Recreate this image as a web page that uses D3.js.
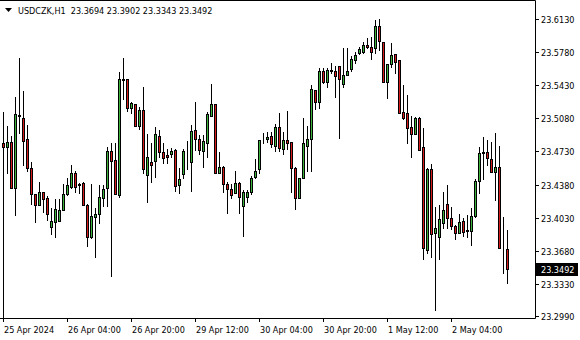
<!DOCTYPE html>
<html>
<head>
<meta charset="utf-8">
<script src="https://cdn.jsdelivr.net/npm/d3@7"></script>
<style>
  body { margin: 0; background: #fff; }
  svg { display: block; }
  text { font-family: "DejaVu Sans Condensed", "DejaVu Sans", sans-serif; font-stretch: condensed; font-size: 9px; fill: #000; white-space: pre; }
</style>
</head>
<body>
<svg id="canvas"></svg>
<script>
const title = "USDCZK,H1"

// hourly OHLC, one entry per bar
const opens = [23.4819,23.4777,23.4830,23.4344,23.5115,23.5084,23.4861,23.4555,23.4280,23.4164,
  23.4301,23.4238,23.3931,23.3984,23.3995,23.4111,23.4280,23.4354,23.4502,23.4386,
  23.4396,23.4164,23.3826,23.4037,23.4069,23.4238,23.4344,23.4735,23.4640,23.4270,
  23.5496,23.5496,23.5190,23.5232,23.4999,23.5168,23.4481,23.4618,23.4629,23.4893,
  23.4724,23.4692,23.4703,23.4745,23.4375,23.4492,23.4629,23.4618,23.4957,23.4861,
  23.4735,23.4819,23.5105,23.5232,23.4502,23.4566,23.4386,23.4333,23.4291,23.4396,
  23.4153,23.4248,23.4301,23.4460,23.4544,23.4851,23.4861,23.4893,23.4788,23.4988,
  23.4756,23.4851,23.4830,23.4555,23.4238,23.4449,23.4788,23.4861,23.5380,23.5253,
  23.5580,23.5464,23.5591,23.5580,23.5633,23.5443,23.5538,23.5602,23.5697,23.5771,
  23.5781,23.5855,23.5834,23.5824,23.6057,23.5887,23.5464,23.5654,23.5760,23.5697,
  23.5147,23.5137,23.4988,23.4914,23.5084,23.4777,23.3688,23.4544,23.3868,23.3826,
  23.3973,23.4174,23.4026,23.3942,23.3868,23.3995,23.3899,23.3889,23.4047,23.4418,
  23.4724,23.4724,23.4650,23.4513,23.4566,23.3709,23.3694]
const highs = [23.5147,23.4999,23.4893,23.5306,23.5718,23.5369,23.5010,23.4618,23.4280,23.4407,
  23.4301,23.4259,23.4132,23.4227,23.4227,23.4386,23.4449,23.4587,23.4523,23.4396,
  23.4407,23.4174,23.4386,23.4132,23.4375,23.4375,23.4777,23.4819,23.4819,23.5570,
  23.5718,23.5496,23.5253,23.5232,23.5200,23.5411,23.4914,23.4819,23.4988,23.4957,
  23.4819,23.4756,23.4766,23.4756,23.4555,23.4756,23.4840,23.5010,23.5253,23.4904,
  23.4904,23.5147,23.5443,23.5232,23.4724,23.4576,23.4407,23.4386,23.4523,23.4407,
  23.4322,23.4322,23.4471,23.4650,23.4851,23.4925,23.4936,23.4936,23.5020,23.5137,
  23.4936,23.5158,23.4830,23.4566,23.4449,23.5084,23.4999,23.5432,23.5380,23.5612,
  23.5612,23.5612,23.5665,23.5633,23.5633,23.5824,23.5824,23.5739,23.5781,23.5834,
  23.5887,23.5930,23.5940,23.6120,23.6130,23.5887,23.5654,23.5876,23.5760,23.5697,
  23.5432,23.5327,23.5105,23.5094,23.5094,23.4978,23.4555,23.4597,23.4143,23.4164,
  23.4301,23.4375,23.4143,23.3952,23.4069,23.4026,23.4058,23.4132,23.4439,23.4777,
  23.4883,23.4851,23.4830,23.4925,23.4788,23.4037,23.3902]
const lows = [23.2700,23.4502,23.4344,23.4058,23.4925,23.4587,23.4523,23.4174,23.3984,23.4164,
  23.4090,23.4005,23.3857,23.3826,23.3995,23.4111,23.4270,23.4344,23.4301,23.4291,
  23.4164,23.3731,23.3815,23.3614,23.3973,23.4153,23.4153,23.3413,23.4280,23.4248,
  23.5285,23.5158,23.5137,23.4999,23.4967,23.4502,23.4196,23.4407,23.4460,23.4671,
  23.4608,23.4608,23.4671,23.4312,23.4291,23.4449,23.4544,23.4312,23.4745,23.4703,
  23.4566,23.4671,23.5105,23.4502,23.4502,23.4301,23.4079,23.4238,23.4291,23.4079,
  23.3836,23.4196,23.4280,23.4449,23.4502,23.4819,23.4830,23.4777,23.4735,23.4735,
  23.4703,23.4756,23.4301,23.4121,23.4238,23.4449,23.4523,23.4523,23.5179,23.5190,
  23.5454,23.5411,23.5559,23.5306,23.4872,23.5411,23.5538,23.5580,23.5665,23.5760,
  23.5771,23.5824,23.5707,23.5771,23.5802,23.5464,23.5295,23.5623,23.5559,23.5137,
  23.5073,23.4819,23.4671,23.4914,23.4745,23.3593,23.3656,23.3614,23.3054,23.3593,
  23.3921,23.3921,23.3910,23.3804,23.3868,23.3836,23.3826,23.3741,23.4037,23.4291,
  23.4439,23.4587,23.4513,23.4217,23.3709,23.3445,23.3343]
const closes = [23.4777,23.4830,23.4344,23.5126,23.5105,23.4840,23.4555,23.4280,23.4164,23.4301,
  23.4227,23.4069,23.3995,23.4121,23.4111,23.4280,23.4375,23.4502,23.4354,23.4375,
  23.4164,23.3826,23.4047,23.4069,23.4248,23.4333,23.4735,23.4629,23.4280,23.5496,
  23.5485,23.5190,23.5242,23.4999,23.5168,23.4544,23.4671,23.4587,23.4914,23.4724,
  23.4661,23.4671,23.4735,23.4365,23.4439,23.4735,23.4632,23.4946,23.4861,23.4745,
  23.4840,23.5126,23.5232,23.4502,23.4566,23.4386,23.4333,23.4270,23.4396,23.4248,
  23.4301,23.4301,23.4449,23.4523,23.4851,23.4848,23.4883,23.4809,23.4988,23.4766,
  23.4851,23.4819,23.4555,23.4238,23.4449,23.4819,23.4861,23.5390,23.5253,23.5580,
  23.5464,23.5591,23.5580,23.5527,23.5496,23.5538,23.5580,23.5707,23.5749,23.5813,
  23.5855,23.5834,23.5781,23.6057,23.5897,23.5464,23.5654,23.5749,23.5676,23.5137,
  23.5084,23.4978,23.4914,23.5084,23.4745,23.3709,23.4544,23.3857,23.3921,23.4016,
  23.4111,23.4026,23.3942,23.3868,23.3984,23.3878,23.3889,23.4047,23.4418,23.4714,
  23.4714,23.4661,23.4513,23.4566,23.3709,23.3705,23.3492]

const priceTicks = [23.6130, 23.5780, 23.5430, 23.5080, 23.4730, 23.4380, 23.4030, 23.3680, 23.3330, 23.2990]
const timeTickBars = [0, 16, 32, 48, 64, 80, 96, 112]
const timeTickLabels = ["25 Apr 2024", "26 Apr 04:00", "26 Apr 20:00", "29 Apr 12:00",
  "30 Apr 04:00", "30 Apr 20:00", "1 May 12:00", "2 May 04:00"]

const width = 580
const height = 340
const plotRight = 535
const plotBottom = 318

const bullColor = "#3cb43c"
const bearColor = "#d41c1c"

const canvas = d3.select("#canvas").attr("width", width).attr("height", height)

const bars = opens.map((o, i) => ({ i, o, h: highs[i], l: lows[i], c: closes[i] }))

const xScale = d3.scaleLinear().domain([0, 126]).range([3, 507])
const yScale = d3.scaleLinear().domain([23.2990, 23.6130]).range([316, 19])

const px = v => Math.round(yScale(v))

canvas.append("clipPath").attr("id", "plot-clip")
  .append("rect").attr("x", 0).attr("y", 0).attr("width", plotRight).attr("height", plotBottom)

const plot = canvas.append("g").attr("clip-path", "url(#plot-clip)")

const candle = plot.selectAll("g.candle")
  .data(bars)
  .enter()
  .append("g")
  .attr("class", "candle")

candle.append("line")
  .attr("x1", d => xScale(d.i) + 0.5)
  .attr("x2", d => xScale(d.i) + 0.5)
  .attr("y1", d => px(d.h))
  .attr("y2", d => px(d.l) + 1)
  .attr("stroke", "#000")
  .attr("stroke-width", 1)

candle.append("rect")
  .attr("x", d => xScale(d.i) - 0.5)
  .attr("y", d => Math.min(px(d.o), px(d.c)) + 0.5)
  .attr("width", 2)
  .attr("height", d => Math.abs(px(d.o) - px(d.c)))
  .attr("fill", d => d.c >= d.o ? bullColor : bearColor)
  .attr("stroke", "#000")
  .attr("stroke-width", 1)
  .attr("shape-rendering", "crispEdges")

// frame
canvas.append("path")
  .attr("d", `M0,0.5H${plotRight + 0.5}V${plotBottom + 0.5}H0`)
  .attr("fill", "none")
  .attr("stroke", "#000")
  .attr("stroke-width", 1)

// price axis
const yAxis = canvas.append("g").attr("id", "y-axis")
yAxis.selectAll("line")
  .data(priceTicks)
  .enter()
  .append("line")
  .attr("x1", plotRight + 1)
  .attr("x2", plotRight + 4)
  .attr("y1", d => px(d) + 0.5)
  .attr("y2", d => px(d) + 0.5)
  .attr("stroke", "#000")
yAxis.selectAll("text")
  .data(priceTicks)
  .enter()
  .append("text")
  .attr("x", plotRight + 6)
  .attr("y", d => px(d) + 4)
  .text(d => d.toFixed(4))

// time axis
const xAxis = canvas.append("g").attr("id", "x-axis")
xAxis.selectAll("line")
  .data(timeTickBars)
  .enter()
  .append("line")
  .attr("x1", d => xScale(d) + 0.5)
  .attr("x2", d => xScale(d) + 0.5)
  .attr("y1", plotBottom)
  .attr("y2", plotBottom + 4)
  .attr("stroke", "#000")
xAxis.selectAll("text")
  .data(timeTickBars)
  .enter()
  .append("text")
  .attr("x", d => xScale(d) + 1)
  .attr("y", 333)
  .text((d, i) => timeTickLabels[i])

// current price marker
const last = bars[bars.length - 1]
canvas.append("rect")
  .attr("x", plotRight + 1)
  .attr("y", px(last.c) - 6)
  .attr("width", 42)
  .attr("height", 13)
  .attr("fill", "#000")
canvas.append("text")
  .attr("x", plotRight + 6)
  .attr("y", px(last.c) + 4)
  .style("fill", "#fff")
  .text(last.c.toFixed(4))

// header
canvas.append("path")
  .attr("d", "M5,8H12L8.5,12Z")
  .attr("fill", "#000")
canvas.append("text")
  .attr("x", 18)
  .attr("y", 14)
  .attr("xml:space", "preserve")
  .text(`${title}  ${last.o.toFixed(4)} ${last.h.toFixed(4)} ${last.l.toFixed(4)} ${last.c.toFixed(4)}`)
</script>
</body>
</html>
